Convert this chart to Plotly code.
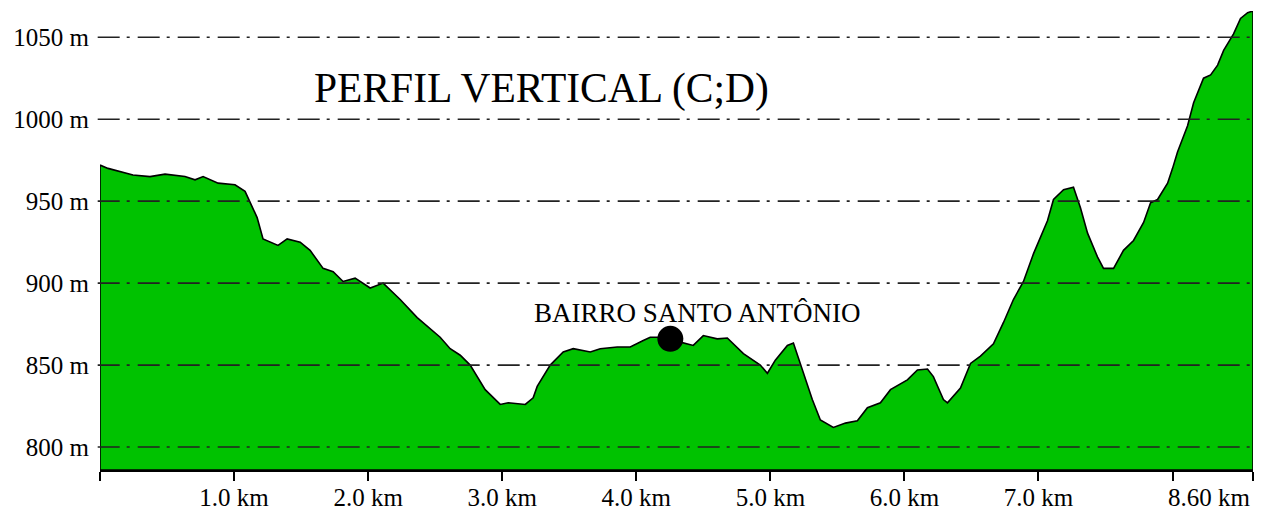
import plotly.graph_objects as go

# ---- data ----
distance_km = [
    0.000, 0.060, 0.246, 0.373, 0.485, 0.634, 0.709, 0.769, 0.881, 1.007,
    1.082, 1.119, 1.172, 1.216, 1.328, 1.396, 1.493, 1.567, 1.664, 1.739,
    1.813, 1.903, 2.015, 2.112, 2.239, 2.366, 2.537, 2.612, 2.687, 2.761,
    2.873, 2.985, 3.045, 3.172, 3.231, 3.261, 3.358, 3.455, 3.530, 3.657,
    3.731, 3.858, 3.955, 4.052, 4.104, 4.179, 4.254, 4.328, 4.425, 4.500,
    4.604, 4.679, 4.799, 4.925, 4.978, 5.037, 5.127, 5.172, 5.224, 5.313,
    5.373, 5.470, 5.560, 5.649, 5.724, 5.821, 5.896, 6.022, 6.097, 6.172,
    6.216, 6.291, 6.321, 6.418, 6.493, 6.567, 6.664, 6.739, 6.813, 6.888,
    6.963, 7.067, 7.112, 7.187, 7.261, 7.313, 7.366, 7.440, 7.485, 7.560,
    7.634, 7.709, 7.784, 7.836, 7.888, 7.963, 8.000, 8.037, 8.112, 8.157,
    8.231, 8.284, 8.336, 8.381, 8.455, 8.507, 8.560, 8.600,
]
elevation_m = [
    972, 970, 966, 965, 966.5, 965, 963, 965, 961, 960,
    956, 949, 940, 927, 923, 927, 925, 920, 909, 907,
    901, 903, 897, 900, 890, 879, 867, 860, 856, 850,
    835, 826, 827, 826, 830, 837, 850, 858, 860, 858,
    860, 861, 861, 865, 867, 867, 866, 864, 862, 868,
    866, 866.5, 857, 850, 845, 853, 862, 863.5, 851, 829,
    816.5, 812, 814.6, 816, 824, 827, 835, 841, 847, 847.6,
    843, 829, 827, 836, 851, 855.5, 863, 876, 890, 901,
    918, 938, 951, 957, 958.5, 946, 930.5, 916, 909, 909,
    920, 926, 937, 949, 951, 961, 970, 980, 996, 1010,
    1025, 1027, 1033, 1042, 1052, 1061.5, 1065, 1066,
]

y_tick_values = [800, 850, 900, 950, 1000, 1050]
y_tick_labels = ["800 m", "850 m", "900 m", "950 m", "1000 m", "1050 m"]
x_tick_values = [0, 1, 2, 3, 4, 5, 6, 7, 8, 8.6]
x_tick_labels = ["", "1.0 km", "2.0 km", "3.0 km", "4.0 km", "5.0 km",
                 "6.0 km", "7.0 km", "", "8.60 km"]

point_name = "BAIRRO SANTO ANTÔNIO"
point_km = 4.254
point_elev = 866
title_text = "PERFIL VERTICAL (C;D)"

# ---- style ----
Y_MIN, Y_MAX = 786, 1066
X_MIN, X_MAX = 0, 8.6
GREEN = "#00c200"
FONT = "Times New Roman, Liberation Serif, DejaVu Serif, serif"

# closed polygon down to the axis floor
poly_x = distance_km + [distance_km[-1], distance_km[0], distance_km[0]]
poly_y = elevation_m + [Y_MIN, Y_MIN, elevation_m[0]]

fig = go.Figure()
fig.add_trace(go.Scatter(
    x=poly_x, y=poly_y, mode="lines", fill="toself",
    fillcolor=GREEN, line=dict(color="black", width=1.6),
    hoverinfo="skip", showlegend=False,
))
fig.add_trace(go.Scatter(
    x=[point_km], y=[point_elev], mode="markers",
    marker=dict(color="black", size=26, line=dict(width=0)),
    showlegend=False,
))

# dash-dot gridlines drawn above the fill
for yv in y_tick_values:
    fig.add_shape(type="line", xref="paper", yref="y", x0=-0.002, x1=1,
                  y0=yv, y1=yv, layer="above",
                  line=dict(color="#222222", width=1.6, dash="22px,7px,3px,8px"))

fig.add_annotation(x=point_km + 0.2, y=882, text=point_name, showarrow=False,
                   font=dict(family=FONT, size=27, color="black"),
                   xanchor="center", yanchor="middle")
fig.add_annotation(x=3.29, y=1019, text=title_text, showarrow=False,
                   font=dict(family=FONT, size=41.5, color="black"),
                   xanchor="center", yanchor="middle")
fig.add_annotation(x=x_tick_values[-1], xref="x", yref="paper", y=-0.027,
                   text=x_tick_labels[-1], showarrow=False,
                   font=dict(family=FONT, size=25, color="black"),
                   xanchor="right", yanchor="top")

fig.update_layout(
    width=1263, height=512,
    margin=dict(l=100, r=10, t=11, b=42),
    paper_bgcolor="white", plot_bgcolor="white",
    font=dict(family=FONT, size=25, color="black"),
    xaxis=dict(range=[X_MIN, X_MAX], showgrid=False, zeroline=False,
               automargin=False,
               showline=True, linecolor="black", linewidth=2,
               ticks="outside", ticklen=9, tickwidth=2, tickcolor="black",
               tickvals=x_tick_values,
               ticktext=x_tick_labels[:-1] + [""],
               ticklabelstandoff=-5,
               tickfont=dict(family=FONT, size=25, color="black")),
    yaxis=dict(range=[Y_MIN, Y_MAX], showgrid=False, zeroline=False,
               automargin=False,
               showline=False, ticks="",
               tickvals=y_tick_values, ticktext=y_tick_labels,
               ticklabelstandoff=10,
               tickfont=dict(family=FONT, size=25, color="black")),
)

fig.write_html("out.html", config={"displayModeBar": False},
               post_script="document.body.style.margin='0';document.body.style.overflow='hidden';")
